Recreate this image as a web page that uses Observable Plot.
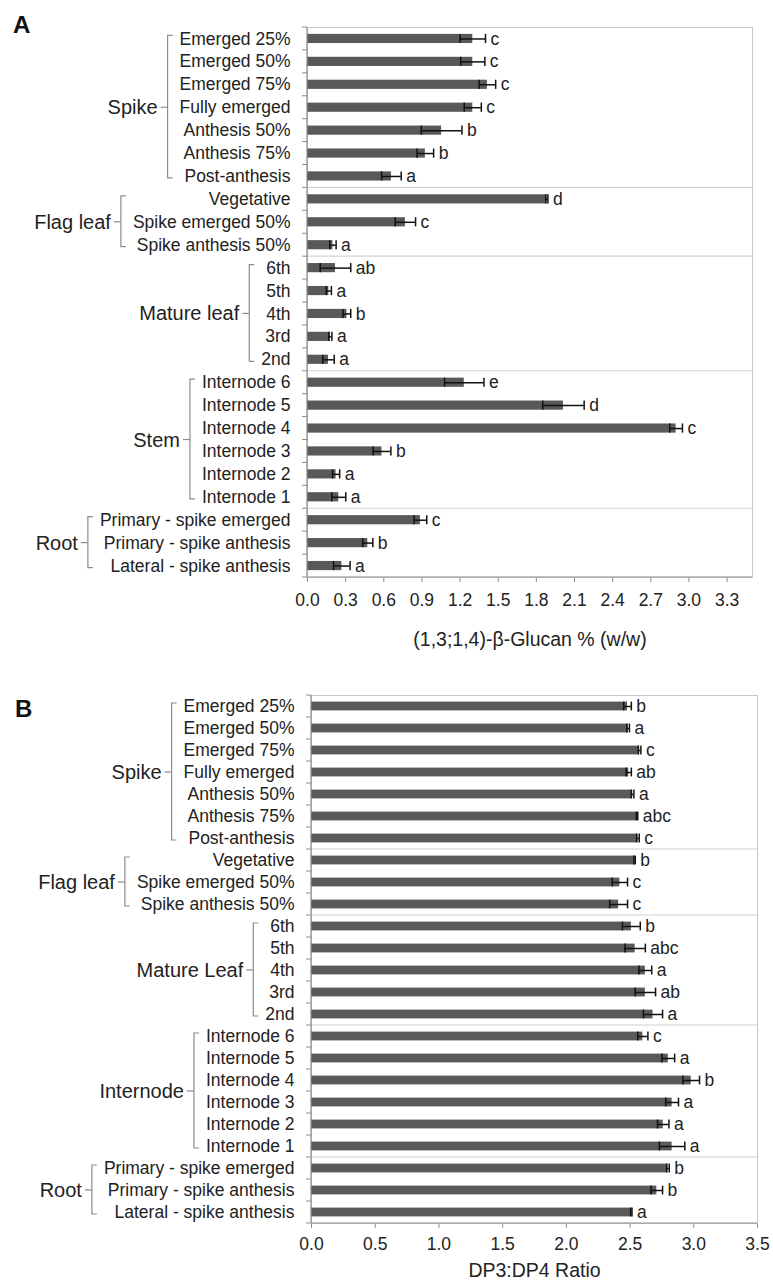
<!DOCTYPE html>
<html>
<head>
<meta charset="utf-8">
<script src="https://cdn.jsdelivr.net/npm/d3@7"></script>
<script src="https://cdn.jsdelivr.net/npm/@observablehq/plot@0.6"></script>
<style>
  body { margin: 0; background: #fff; }
  #chart svg { display: block; }
  #chart svg [aria-label^="x-axis"] line,
  #chart svg [aria-label^="x-axis"] path { stroke: #8c8c8c; }
</style>
</head>
<body>
<div id="chart"></div>
<script>
// ---------------- data ----------------
const categories = [
  "Emerged 25%", "Emerged 50%", "Emerged 75%", "Fully emerged", "Anthesis 50%", "Anthesis 75%", "Post-anthesis",
  "Vegetative", "Spike emerged 50%", "Spike anthesis 50%",
  "6th", "5th", "4th", "3rd", "2nd",
  "Internode 6", "Internode 5", "Internode 4", "Internode 3", "Internode 2", "Internode 1",
  "Primary - spike emerged", "Primary - spike anthesis", "Lateral - spike anthesis"
];
const groupSizes = [7, 3, 5, 6, 3];
const groupsA = ["Spike", "Flag leaf", "Mature leaf", "Stem", "Root"];
const groupsB = ["Spike", "Flag leaf", "Mature Leaf", "Internode", "Root"];

const glucanMean = [1.30, 1.30, 1.415, 1.30, 1.055, 0.927, 0.66,
                    1.883, 0.77, 0.20,
                    0.22, 0.168, 0.31, 0.18, 0.165,
                    1.233, 2.013, 2.899, 0.586, 0.225, 0.246,
                    0.888, 0.474, 0.27];
const glucanErr  = [0.10, 0.095, 0.065, 0.067, 0.16, 0.065, 0.077,
                    0.008, 0.08, 0.025,
                    0.12, 0.02, 0.03, 0.012, 0.045,
                    0.155, 0.163, 0.05, 0.07, 0.028, 0.055,
                    0.05, 0.04, 0.065];
const glucanLetters = ["c", "c", "c", "c", "b", "b", "a",
                       "d", "c", "a",
                       "ab", "a", "b", "a", "a",
                       "e", "d", "c", "b", "a", "a",
                       "c", "b", "a"];
const glucanTicks = [0, 0.3, 0.6, 0.9, 1.2, 1.5, 1.8, 2.1, 2.4, 2.7, 3.0, 3.3];

const ratioMean = [2.48, 2.485, 2.575, 2.49, 2.52, 2.555, 2.562,
                   2.536, 2.42, 2.41,
                   2.51, 2.54, 2.62, 2.62, 2.68,
                   2.60, 2.80, 2.98, 2.83, 2.76, 2.83,
                   2.797, 2.71, 2.51];
const ratioErr  = [0.03, 0.01, 0.01, 0.02, 0.01, 0.005, 0.01,
                   0.005, 0.06, 0.07,
                   0.07, 0.08, 0.05, 0.08, 0.075,
                   0.04, 0.05, 0.065, 0.05, 0.045, 0.1,
                   0.01, 0.045, 0.005];
const ratioLetters = ["b", "a", "c", "ab", "a", "abc", "c",
                      "b", "c", "c",
                      "b", "abc", "a", "ab", "a",
                      "c", "a", "b", "a", "a", "a",
                      "b", "b", "a"];
const ratioTicks = [0, 0.5, 1.0, 1.5, 2.0, 2.5, 3.0, 3.5];

// ---------------- drawing ----------------
const FONT = "'Liberation Sans', Arial, Helvetica, sans-serif";
const AXIS = "#8c8c8c";
const BRACKET = "#8c8c8c";

function makePanel(o) {
  const data = categories.map((c, i) => ({cat: c, mean: o.means[i], err: o.errs[i], letter: o.letters[i]}));
  return Plot.plot({
    width: 773,
    height: o.height,
    marginTop: o.marginTop,
    marginLeft: o.marginLeft,
    marginRight: o.marginRight,
    marginBottom: o.marginBottom,
    style: {fontFamily: FONT, fontSize: "17.5px", color: "#222", background: "#fff", overflow: "visible"},
    x: {domain: o.xDomain, ticks: o.ticks, tickFormat: d3.format(".1f"), tickSize: 5, tickPadding: o.tickPadding, label: null},
    y: {domain: categories, paddingInner: 0.6, paddingOuter: 0.3, round: false, tickSize: 0, tickPadding: 17, label: null},
    marks: [
      Plot.frame({stroke: "#c8c8c8"}),
      Plot.barX(data, {x: "mean", y: "cat", fill: "#595959"}),
      Plot.ruleY(data, {y: "cat", x1: d => d.mean - d.err, x2: d => d.mean + d.err, stroke: "#111", strokeWidth: 1.5}),
      Plot.tickX(data, {x: d => d.mean - d.err, y: "cat", stroke: "#111", strokeWidth: 1.5}),
      Plot.tickX(data, {x: d => d.mean + d.err, y: "cat", stroke: "#111", strokeWidth: 1.5}),
      Plot.text(data, {x: d => d.mean + d.err, y: "cat", text: "letter", textAnchor: "start", dx: 5, fill: "#222"}),
      Plot.text([o.title], {frameAnchor: "bottom", lineAnchor: "middle", dy: o.titleDy, fontSize: 19.5, fill: "#222"})
    ]
  });
}

function decorate(svgEl, groups, panelLetter, letterX, letterY) {
  const svg = d3.select(svgEl);
  const ys = svgEl.scale("y");
  const xs = svgEl.scale("x");
  const n = categories.length;
  const r = ys.range;
  const step = ys.step ?? (Math.abs(r[1] - r[0]) / n);
  const bw = ys.bandwidth ?? step * 0.4;
  const half = (step - bw) / 2;
  const top = c => ys.apply(c) - half;
  const center = c => ys.apply(c) + bw / 2;
  const [xa, xb] = xs.range;
  const yEnd = ys.apply(categories[n - 1]) + bw + half;
  const G = svg.append("g");
  const line = (x1, y1, x2, y2, stroke, w = 1) =>
    G.append("line").attr("x1", x1).attr("y1", y1).attr("x2", x2).attr("y2", y2)
      .attr("stroke", stroke).attr("stroke-width", w);

  // group separators
  let idx = 0;
  groupSizes.forEach((s, gi) => {
    if (gi > 0) line(xa, top(categories[idx]), xb, top(categories[idx]), "#d2d2d2", 1.2);
    idx += s;
  });
  // y tick marks at category boundaries
  categories.forEach(c => line(xa - 5, top(c), xa, top(c), AXIS));
  line(xa - 5, yEnd, xa, yEnd, AXIS);
  // axis lines
  line(xa, top(categories[0]), xa, yEnd, AXIS, 1.2);
  line(xa, yEnd, xb, yEnd, AXIS, 1.2);

  // brackets + group labels
  const rect = svgEl.getBoundingClientRect();
  const left = new Map();
  svg.selectAll("text").each(function () {
    const t = this.textContent;
    if (categories.includes(t) && !left.has(t)) left.set(t, this.getBoundingClientRect().left - rect.left);
  });
  idx = 0;
  groupSizes.forEach((s, gi) => {
    const cats = categories.slice(idx, idx + s);
    idx += s;
    const minL = d3.min(cats, c => left.get(c));
    const bx = minL - 12;
    const y1 = center(cats[0]) - 3, y2 = center(cats[s - 1]) + 2;
    G.append("path").attr("d", `M${bx + 5},${y1}H${bx}V${y2}H${bx + 5}`)
      .attr("fill", "none").attr("stroke", BRACKET).attr("stroke-width", 1.2);
    const ym = (center(cats[0]) + center(cats[s - 1])) / 2;
    line(bx - 7, ym, bx, ym, BRACKET, 1.2);
    G.append("text").attr("x", bx - 10).attr("y", ym).attr("dy", "0.35em")
      .attr("text-anchor", "end").attr("font-size", 20).attr("fill", "#222").text(groups[gi]);
  });

  G.append("text").attr("x", letterX).attr("y", letterY).attr("text-anchor", "start")
    .attr("font-size", 24).attr("font-weight", "bold").attr("fill", "#111").text(panelLetter);
}

const container = document.getElementById("chart");

const chartA = makePanel({
  means: glucanMean, errs: glucanErr, letters: glucanLetters, ticks: glucanTicks,
  xDomain: [0, 3.5], height: 660, marginTop: 27, marginLeft: 307, marginRight: 21, marginBottom: 83,
  tickPadding: 11, title: "(1,3;1,4)-β-Glucan % (w/w)", titleDy: 62.5
});
container.appendChild(chartA);
decorate(chartA, groupsA, "A", 13, 33);

const chartB = makePanel({
  means: ratioMean, errs: ratioErr, letters: ratioLetters, ticks: ratioTicks,
  xDomain: [0, 3.5], height: 623, marginTop: 35, marginLeft: 311, marginRight: 16, marginBottom: 60,
  tickPadding: 9, title: "DP3:DP4 Ratio", titleDy: 47.5
});
container.appendChild(chartB);
decorate(chartB, groupsB, "B", 15, 57);
</script>
</body>
</html>
